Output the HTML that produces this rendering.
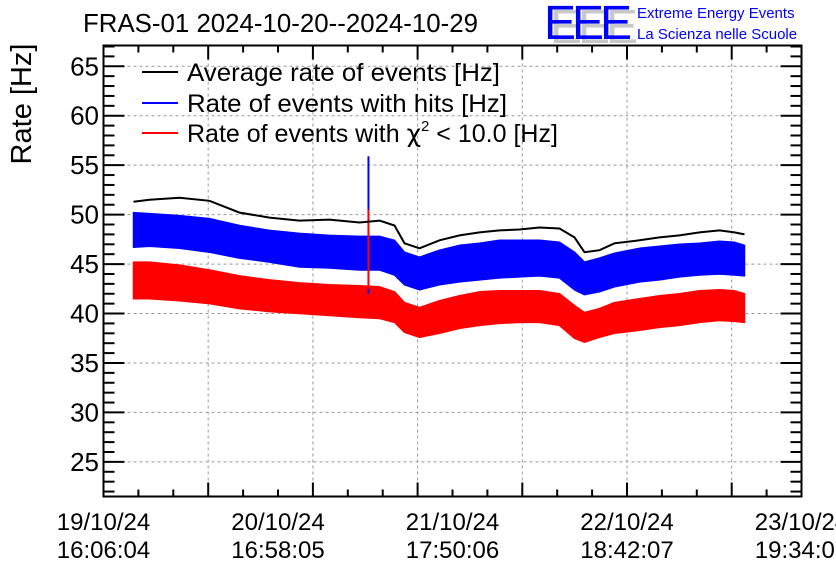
<!DOCTYPE html>
<html><head><meta charset="utf-8"><style>
html,body{margin:0;padding:0;background:#fff;}
svg{display:block;font-family:"Liberation Sans",Arial,sans-serif;}
</style></head><body>
<svg id="chart" width="836" height="572" viewBox="0 0 836 572" xmlns="http://www.w3.org/2000/svg">
<rect x="0" y="0" width="836" height="572" fill="#fff"/>
<text x="83" y="32" font-size="26" fill="#000" textLength="395" lengthAdjust="spacingAndGlyphs">FRAS-01 2024-10-20--2024-10-29</text>
<g>
<text x="550" y="43" font-size="48" fill="#c8c8c8" letter-spacing="-4">EEE</text>
<text x="544" y="39" font-size="48" fill="#0000ff" letter-spacing="-4">EEE</text>
<text x="637" y="18" font-size="15" fill="#0000ff">Extreme Energy Events</text>
<text x="637" y="39" font-size="15" fill="#0000ff">La Scienza nelle Scuole</text>
</g>
<text transform="translate(31,104) rotate(-90)" text-anchor="middle" font-size="29" fill="#000">Rate [Hz]</text>
<g id="grid"></g>
<g id="series"></g>
<g id="axes"></g>
<g>
<g><line x1="142" y1="72" x2="178" y2="72" stroke="#000" stroke-width="2"/><text x="187" y="81" font-size="25" textLength="313" lengthAdjust="spacingAndGlyphs">Average rate of events [Hz]</text></g>
<g><line x1="142" y1="103" x2="178" y2="103" stroke="#0000ff" stroke-width="2"/><text x="187" y="112" font-size="25" textLength="320" lengthAdjust="spacingAndGlyphs">Rate of events with hits [Hz]</text></g>
<g><line x1="142" y1="133" x2="178" y2="133" stroke="#ff0000" stroke-width="2"/><text x="187" y="142" font-size="25">Rate of events with <tspan font-family="'DejaVu Sans',sans-serif">χ</tspan><tspan font-size="15" dy="-11">2</tspan><tspan dy="11"> &lt; 10.0 [Hz]</tspan></text></g>
</g>
</svg>
<script>
// hours since 19/10/24 16:06:04
const times = [4.28,6.56,10.83,15.1,19.38,23.66,27.93,32.2,36.48,39.33,41.47,42.9,45.03,47.88,50.73,53.58,56.43,59.28,62.13,64.98,67.12,68.55,70.68,72.82,76.38,79.23,82.08,84.93,87.78,89.92,91.35];
const avgRate = [51.3,51.5,51.7,51.4,50.2,49.7,49.4,49.5,49.2,49.4,48.9,47.1,46.6,47.4,47.9,48.2,48.4,48.5,48.7,48.6,47.7,46.2,46.4,47.1,47.4,47.7,47.9,48.2,48.4,48.2,48.0];
const hitsHigh = [50.2,50.1,49.9,49.6,48.9,48.4,48.1,47.9,47.8,47.8,47.4,46.2,45.7,46.4,46.9,47.1,47.4,47.4,47.4,47.2,46.2,45.2,45.6,46.1,46.6,46.8,47.0,47.1,47.3,47.2,46.9];
const hitsLow = [46.7,46.8,46.6,46.2,45.6,45.2,44.7,44.6,44.4,44.4,43.9,42.9,42.4,42.9,43.2,43.4,43.6,43.7,43.8,43.6,42.4,41.9,42.2,42.7,43.2,43.4,43.7,43.9,44.0,43.9,43.8];
const chiHigh = [45.2,45.2,44.9,44.4,43.8,43.4,43.1,42.9,42.8,42.7,42.2,41.1,40.6,41.3,41.8,42.2,42.3,42.3,42.3,42.0,40.8,40.1,40.5,41.1,41.5,41.8,42.0,42.3,42.4,42.3,42.0];
const chiLow = [41.5,41.5,41.3,41.0,40.5,40.2,40.0,39.8,39.6,39.5,39.1,38.1,37.6,38.0,38.5,38.8,39.0,39.1,39.1,38.8,37.5,37.1,37.6,38.0,38.3,38.6,38.8,39.1,39.3,39.2,39.1];
const spikeTime = 37.76;
const spikeHits = [42.0, 55.9];
const spikeChi = [42.5, 50.5];
const yTicks = [25,30,35,40,45,50,55,60,65];
const xLabels = [["19/10/24","16:06:04"],["20/10/24","16:58:05"],["21/10/24","17:50:06"],["22/10/24","18:42:07"],["23/10/24","19:34:08"]];
const xLabelHours = [0,24.867,49.734,74.601,99.468];

const L=103.5,R=801.5,T=45.5,B=496.5;
const yMin=21.5,yMax=67.1,xMin=0,xMax=99.47;
const X=h=>L+(h-xMin)/(xMax-xMin)*(R-L);
const Y=v=>B-(v-yMin)/(yMax-yMin)*(B-T);
const NS="http://www.w3.org/2000/svg";
function mk(tag,attrs,parent){const e=document.createElementNS(NS,tag);for(const k in attrs)e.setAttribute(k,attrs[k]);parent.appendChild(e);return e;}
const grid=document.getElementById('grid'),series=document.getElementById('series'),axes=document.getElementById('axes');

const xGridStep=(R-L)/20;
for(let k=3;k<20;k+=3){const x=L+k*xGridStep;
 const g=mk('line',{x1:x,y1:T,x2:x,y2:B,stroke:'#999','stroke-dasharray':'3,3','stroke-width':1},grid);
 
 }
yTicks.forEach(v=>{const g=mk('line',{x1:L,y1:Y(v),x2:R,y2:Y(v),stroke:'#999','stroke-dasharray':'3,3','stroke-width':1},grid);
 
 });

function band(hi,lo,color,name){
 let d='M'+times.map((t,i)=>X(t).toFixed(1)+','+Y(hi[i]).toFixed(1)).join('L');
 d+='L'+times.slice().reverse().map((t,j)=>{const i=times.length-1-j;return X(t).toFixed(1)+','+Y(lo[i]).toFixed(1);}).join('L')+'Z';
 const p=mk('path',{d:d,fill:color,stroke:color,'stroke-width':1.5,'stroke-linejoin':'round'},series);
 
 
}
band(hitsHigh,hitsLow,'#0000ff','hits-rate-series');
band(chiHigh,chiLow,'#ff0000','chi2-rate-series');
const s1=mk('line',{x1:X(spikeTime),y1:Y(spikeHits[0]),x2:X(spikeTime),y2:Y(spikeHits[1]),stroke:'#0000ff','stroke-width':2},series);


const s2=mk('line',{x1:X(spikeTime),y1:Y(spikeChi[0]),x2:X(spikeTime),y2:Y(spikeChi[1]),stroke:'#ff0000','stroke-width':2},series);


const avg=mk('polyline',{points:times.map((t,i)=>X(t).toFixed(1)+','+Y(avgRate[i]).toFixed(1)).join(' '),fill:'none',stroke:'#000','stroke-width':2},series);



const fr=mk('rect',{x:L,y:T,width:R-L,height:B-T,fill:'none',stroke:'#000','stroke-width':2},axes);


for(let v=22;v<=67;v++){const maj=v%5===0,len=maj?21:11;
 mk('line',{x1:L,y1:Y(v),x2:L+len,y2:Y(v),stroke:'#000','stroke-width':2},axes);
 mk('line',{x1:R,y1:Y(v),x2:R-len,y2:Y(v),stroke:'#000','stroke-width':2},axes);}
yTicks.forEach(v=>{const t=mk('text',{x:99,y:Y(v)+9,'text-anchor':'end','font-size':26},axes);t.textContent=v;
 
 });
for(let k=1;k<20;k++){const x=L+k*xGridStep,len=(k%3===0)?14:7;
 mk('line',{x1:x,y1:B,x2:x,y2:B-len,stroke:'#000','stroke-width':2},axes);
 mk('line',{x1:x,y1:T,x2:x,y2:T+len,stroke:'#000','stroke-width':2},axes);}
xLabels.forEach((lb,i)=>{const x=X(xLabelHours[i]);
 const t=mk('text',{x:x,y:530,'text-anchor':'middle','font-size':24},axes);t.textContent=lb[0];
 
 
 const t2=mk('text',{x:x,y:558,'text-anchor':'middle','font-size':24},axes);t2.textContent=lb[1];
 
 });
</script>
</body></html>
